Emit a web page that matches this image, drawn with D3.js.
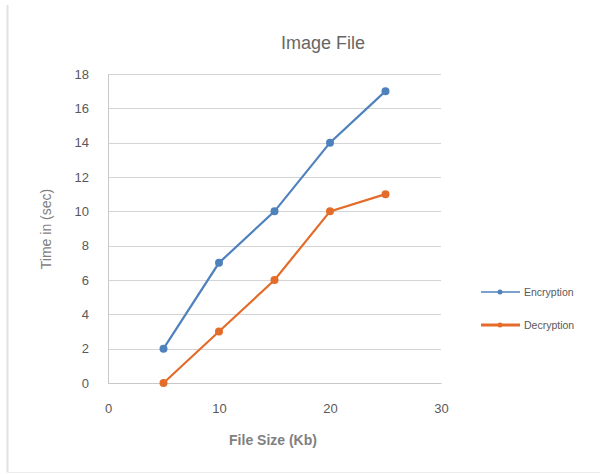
<!DOCTYPE html>
<html><head><meta charset="utf-8">
<script src="https://cdn.jsdelivr.net/npm/d3@7/dist/d3.min.js"></script>
<style>body{margin:0;background:#fff;}svg{display:block;}</style>
</head><body>
<script>
const fileSizes = [5, 10, 15, 20, 25];
const encryption = [2, 7, 10, 14, 17];
const decryption = [0, 3, 6, 10, 11];
const xTicks = [0, 10, 20, 30];
const yTicks = [0, 2, 4, 6, 8, 10, 12, 14, 16, 18];
const seriesNames = ["Encryption", "Decryption"];

const W = 606, H = 474;
const svg = d3.select("body").append("svg").attr("width", W).attr("height", H);
svg.append("rect").attr("width", W).attr("height", H).attr("fill", "#fff");
// faint outer border
svg.append("line").attr("x1", 7.5).attr("x2", 7.5).attr("y1", 5).attr("y2", 472).attr("stroke", "#e2e2e2").attr("stroke-width", 2);
svg.append("line").attr("x1", 7).attr("x2", 600).attr("y1", 472.5).attr("y2", 472.5).attr("stroke", "#ececec");

const x = d3.scaleLinear().domain([0, 30]).range([108, 441]);
const y = d3.scaleLinear().domain([0, 18]).range([383, 74]);
const font = "'Liberation Sans', Arial, sans-serif";

// gridlines
svg.append("g").selectAll("line").data(yTicks).join("line")
  .attr("x1", x(0)).attr("x2", x(30))
  .attr("y1", d => Math.round(y(d)) + 0.5).attr("y2", d => Math.round(y(d)) + 0.5)
  .attr("stroke", "#d4d4d4").attr("stroke-width", 1);

// axes
const yAxis = svg.append("g").attr("transform", `translate(${x(0)},0)`)
  .call(d3.axisLeft(y).tickValues(yTicks).tickSize(0).tickPadding(19));
yAxis.select(".domain").attr("stroke", "#c8c8c8");
yAxis.selectAll("text").attr("font-family", font).attr("font-size", 13).attr("fill", "#595959");

const xAxis = svg.append("g").attr("transform", `translate(0,${y(0)})`)
  .call(d3.axisBottom(x).tickValues(xTicks).tickSize(0).tickPadding(21));
xAxis.select(".domain").attr("stroke", "#c8c8c8");
xAxis.selectAll("text").attr("font-family", font).attr("font-size", 13).attr("fill", "#595959");

// titles
svg.append("text").attr("x", 323).attr("y", 49).attr("text-anchor", "middle")
  .attr("font-family", font).attr("font-size", 18).attr("fill", "#666").text("Image File");
svg.append("text").attr("x", 273).attr("y", 445).attr("text-anchor", "middle")
  .attr("font-family", font).attr("font-size", 14).attr("font-weight", "bold").attr("fill", "#808080").text("File Size (Kb)");
svg.append("text").attr("transform", "translate(51,229) rotate(-90)").attr("text-anchor", "middle")
  .attr("font-family", font).attr("font-size", 14).attr("fill", "#7f7f7f").text("Time in (sec)");

const colors = ["#4f81bd", "#e46c2a"];
const data = [encryption, decryption];
const line = d3.line().x((d, i) => x(fileSizes[i])).y(d => y(d));

data.forEach((vals, k) => {
  svg.append("path").datum(vals).attr("d", line).attr("fill", "none")
    .attr("stroke", colors[k]).attr("stroke-width", 2.2);
  svg.append("g").selectAll("circle").data(vals).join("circle")
    .attr("cx", (d, i) => x(fileSizes[i])).attr("cy", d => y(d)).attr("r", 4)
    .attr("fill", colors[k]);
});

// legend
const legY = [292, 325];
seriesNames.forEach((n, k) => {
  svg.append("line").attr("x1", 481).attr("x2", 520).attr("y1", legY[k]).attr("y2", legY[k])
    .attr("stroke", colors[k]).attr("stroke-width", k === 0 ? 1.5 : 3);
  svg.append("circle").attr("cx", 500).attr("cy", legY[k]).attr("r", 2.5).attr("fill", colors[k]);
  svg.append("text").attr("x", 524).attr("y", legY[k] + 4).attr("font-family", font)
    .attr("font-size", 10.5).attr("fill", "#595959").text(n);
});
</script>
</body></html>
